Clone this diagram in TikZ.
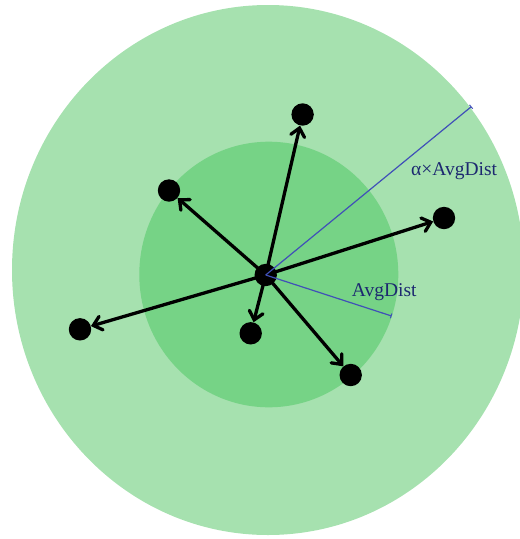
\documentclass[tikz,border=0pt]{standalone}
\usepackage{fontspec}
\setmainfont{Liberation Serif}
\usetikzlibrary{arrows.meta}
\definecolor{outergreen}{HTML}{A6E1AF}
\definecolor{innergreen}{HTML}{76D386}
\definecolor{radiusblue}{HTML}{4050B8}
\definecolor{labelnavy}{HTML}{1C2870}
\begin{document}
\begin{tikzpicture}[x=1pt,y=-1pt,
  dotnode/.style={circle,fill=black,inner sep=0pt,minimum size=22.4pt},
  vec/.style={line width=3.3pt,line cap=round,-{Straight Barb[length=8pt,width=14pt,line cap=round]}},
  radiusline/.style={radiusblue,line width=1.2pt,-{Bar[width=5pt,line width=1pt]}},
  lbl/.style={text=labelnavy,font=\fontsize{19.5}{22}\selectfont,inner sep=0pt,anchor=base west}]
\useasboundingbox (0,0) rectangle (520,539);
\clip (0,0) rectangle (520,539);
% neighbourhood regions
\fill[outergreen] (268,270) ellipse [x radius=256pt, y radius=265pt];
\fill[innergreen] (268.8,274.5) ellipse [x radius=129.5pt, y radius=132.8pt];
% points
\node[dotnode] (c)  at (265.7,275)   {};
\node[dotnode] (p1) at (302.6,114.5) {};
\node[dotnode] (p2) at (169,190.5)   {};
\node[dotnode] (p3) at (444,218)     {};
\node[dotnode] (p4) at (80,329.3)    {};
\node[dotnode] (p5) at (250.7,333.3) {};
\node[dotnode] (p6) at (350.7,375)   {};
% vectors from the centre point
\foreach \p in {p1,p2,p3,p4,p5,p6}
  \draw[vec] (c.center) -- (\p);
% radii
\coordinate (r1) at (471.5,106.5);
\coordinate (r2) at (391.6,316);
\draw[radiusline] (c.center) -- (r1);
\draw[radiusline] (c.center) -- (r2);
\node[lbl] (la) at (411,175) {α×AvgDist};
\node[lbl] (lb) at (351.7,296) {AvgDist};
\end{tikzpicture}
\end{document}
